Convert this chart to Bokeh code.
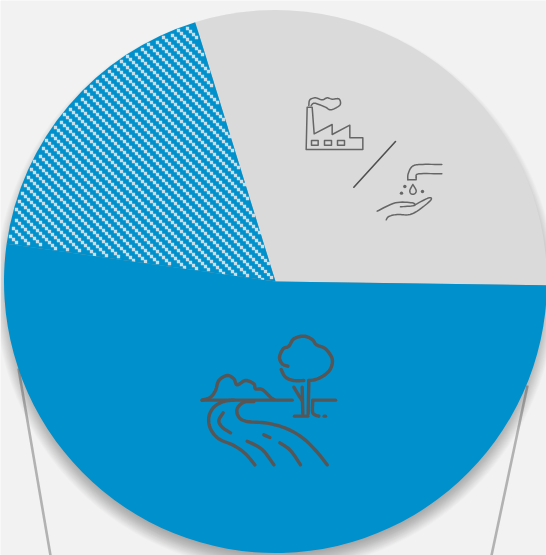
import numpy as np
from bokeh.plotting import figure
from bokeh.embed import file_html
from bokeh.resources import INLINE

# Pie data (percent shares), counter-clockwise from the start angle
categories = ["Industrial / water use", "Hatched share", "Natural environment"]
values = [30, 18, 52]
colors = ["#dadada", "#0090cb", "#0090cb"]
hatched = [False, True, False]

W, H = 546, 555
CX, CY, R = 275, 281, 271.5
START_DEG = -0.8
BG = "#f2f2f2"

p = figure(width=W, height=H, x_range=(0, W), y_range=(H, 0), output_backend="svg",
           toolbar_location=None, min_border=0, outline_line_color=None,
           background_fill_color=BG, border_fill_color=BG)
p.axis.visible = False
p.grid.visible = False
p.styles = {"position": "fixed", "left": "0px", "top": "0px"}

# leader lines
p.line([18, 50], [368, 555], line_color="#b2b2b2", line_width=2.6)
p.line([527, 491], [385, 555], line_color="#b2b2b2", line_width=2.6)

# soft shadow
for i in range(22):
    p.circle([CX], [CY + 9], radius=R + 9 - i * 0.85, fill_color="#000000", fill_alpha=0.014, line_color=None)

# pie
a = np.radians(START_DEG)
for v, c, h in zip(values, colors, hatched):
    b = a + np.radians(v * 3.6)
    p.wedge([CX], [CY], radius=R, start_angle=a, end_angle=b, fill_color=c, line_color=None)
    if h:
        # stair-stepped diagonal texture, kept inside this slice
        step, pitch = 3.0, 11.0
        k, m = np.meshgrid(np.arange(-100, 100), np.arange(-40, 40))
        tx = CX - 130 + step * k.ravel()
        ty = CY - 130 + step * k.ravel() + pitch * m.ravel()
        dx, dy = tx - CX, CY - ty
        ang = np.arctan2(dy, dx) % (2 * np.pi)
        rad = np.hypot(dx, dy)
        keep = (ang > a + 0.006) & (ang < b - 0.006) & (rad < R - 2) & (rad > 3)
        p.rect(tx[keep], ty[keep], width=3.3, height=3.3, fill_color="#c8dfea", line_color=None)
    a = b


def smooth(pts, n=8):
    pts = np.array(pts, float)
    q = np.vstack([pts[0], pts, pts[-1]])
    out = []
    for i in range(1, len(q) - 2):
        p0, p1, p2, p3 = q[i - 1], q[i], q[i + 1], q[i + 2]
        for t in np.linspace(0, 1, n, endpoint=False):
            out.append(0.5 * (2 * p1 + (p2 - p0) * t + (2 * p0 - 5 * p1 + 4 * p2 - p3) * t ** 2
                              + (3 * p1 - p0 - 3 * p2 + p3) * t ** 3))
    out.append(pts[-1])
    return np.array(out)


def draw(paths, ox, oy, color, width):
    for kind, pts in paths:
        arr = smooth(pts) if kind == "s" else np.array(pts, float)
        p.line(arr[:, 0] / 3 + ox, arr[:, 1] / 3 + oy, line_color=color, line_width=width,
               line_cap="round", line_join="round")


factory_icon = [
    ("l", [(80, 80), (77, 207), (247, 207), (247, 172), (208, 172), (208, 134), (155, 162), (155, 132), (101, 160), (95, 80), (80, 80)]),
    ("l", [(93, 180), (113, 180), (113, 194), (93, 194), (93, 180)]),
    ("l", [(132, 180), (153, 180), (153, 194), (132, 194), (132, 180)]),
    ("l", [(171, 180), (192, 180), (192, 194), (171, 194), (171, 180)]),
    ("s", [(85, 75), (88, 58), (105, 52), (125, 58), (140, 52), (155, 56), (175, 55), (180, 70), (170, 80), (150, 88), (135, 80), (115, 72), (100, 68), (92, 75)]),
    ("s", [(484, 252), (420, 252), (395, 258), (383, 280), (382, 298)]),
    ("l", [(382, 298), (407, 298), (407, 290)]),
    ("s", [(407, 290), (415, 280), (484, 280)]),
    ("s", [(397, 312), (388, 330), (392, 340), (402, 340), (407, 330), (397, 312)]),
    ("s", [(290, 392), (345, 367), (395, 367), (400, 375), (360, 379)]),
    ("s", [(400, 375), (445, 352), (448, 362), (395, 400), (350, 402), (325, 408), (317, 418)]),
]
draw(factory_icon, 280, 80, "#666666", 1.5)
draw([("l", [(220, 320), (345, 183)])], 280, 80, "#505050", 1.6)
drop_dots = [(373, 318), (363, 338), (426, 333)]
p.circle([280 + x / 3 for x, _ in drop_dots], [80 + y / 3 for _, y in drop_dots], radius=1.7,
         fill_color="#666666", line_color=None)

landscape_icon = [
    ("s", [(292, 122), (275, 115), (267, 95), (278, 70), (295, 62), (310, 40), (340, 32), (365, 42), (378, 58), (405, 70), (425, 100), (420, 130), (400, 150), (375, 162), (355, 165)]),
    ("s", [(272, 132), (285, 155), (310, 165), (340, 165)]),
    ("l", [(355, 165), (353, 265)]),
    ("l", [(335, 185), (337, 265)]),
    ("l", [(310, 185), (325, 210), (335, 225)]),
    ("l", [(312, 272), (352, 272)]),
    ("s", [(367, 225), (367, 262), (385, 272)]),
    ("l", [(35, 224), (305, 224)]),
    ("l", [(367, 224), (435, 224)]),
    ("s", [(35, 224), (60, 215), (75, 195), (85, 165), (110, 150), (130, 160), (140, 178), (165, 165), (190, 175), (195, 190), (215, 192), (240, 215), (250, 222)]),
    ("s", [(130, 224), (100, 228), (70, 245), (55, 275), (60, 310), (85, 340), (130, 360), (165, 385), (193, 418)]),
    ("s", [(190, 228), (160, 230), (140, 250), (145, 275), (170, 288), (230, 293), (290, 310), (340, 340), (380, 380), (410, 418)]),
    ("s", [(98, 262), (85, 285), (95, 305), (120, 322)]),
    ("l", [(220, 328), (238, 336)]),
    ("s", [(170, 347), (215, 372), (250, 418)]),
    ("s", [(268, 352), (300, 375), (330, 418)]),
    ("l", [(401, 272), (405, 272)]),
]
draw(landscape_icon, 190, 325, "#565656", 3.4)

open("out.html", "w").write(file_html(p, INLINE))
